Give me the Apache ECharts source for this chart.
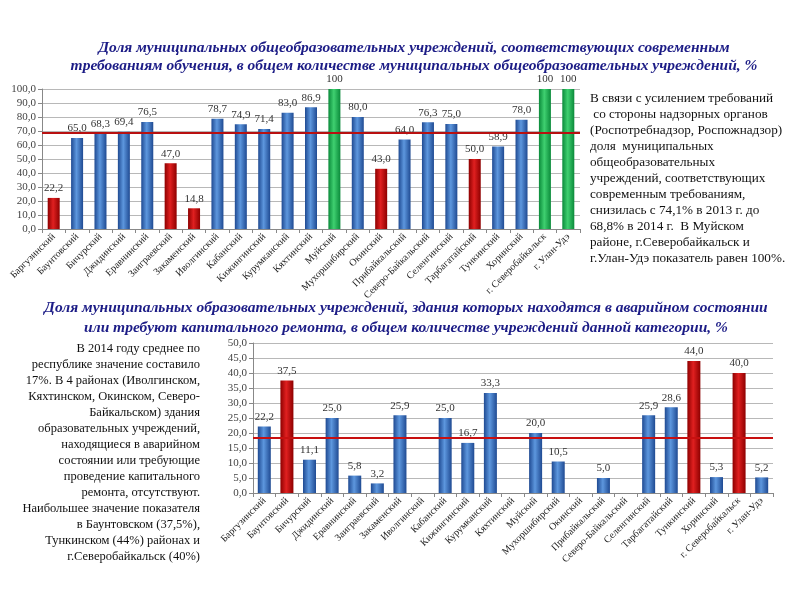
<!DOCTYPE html>
<html>
<head>
<meta charset="utf-8">
<script src="https://cdn.jsdelivr.net/npm/echarts@6/dist/echarts.min.js"></script>
<style>
html,body{margin:0;padding:0;background:#fff;}
#c{width:800px;height:600px;}
</style>
</head>
<body>
<div id="c"></div>
<script>
const categories = ['Баргузинский','Баунтовский','Бичурский','Джидинский','Еравнинский','Заиграевский','Закаменский','Иволгинский','Кабанский','Кижингинский','Курумканский','Кяхтинский','Муйский','Мухоршибирский','Окинский','Прибайкальский','Северо-Байкальский','Селенгинский','Тарбагатайский','Тункинский','Хоринский','г. Северобайкальск','г. Улан-Удэ'];
const topValues = [22.2,65.0,68.3,69.4,76.5,47.0,14.8,78.7,74.9,71.4,83.0,86.9,100,80.0,43.0,64.0,76.3,75.0,50.0,58.9,78.0,100,100];
const bottomValues = [22.2,37.5,11.1,25.0,5.8,3.2,25.9,0,25.0,16.7,33.3,0,20.0,10.5,0,5.0,0,25.9,28.6,44.0,5.3,40.0,5.2];
const topRef = 68.8;
const bottomRef = 18.3;
const topYTicks = [0,10,20,30,40,50,60,70,80,90,100];
const bottomYTicks = [0,5,10,15,20,25,30,35,40,45,50];
const title1 = ['Доля муниципальных общеобразовательных учреждений, соответствующих современным','требованиям обучения, в общем количестве муниципальных общеобразовательных учреждений, %'];
const title2 = ['Доля муниципальных образовательных учреждений, здания которых находятся в аварийном состоянии','или требуют капитального ремонта, в общем количестве учреждений данной категории, %'];
const rightText = ['В связи с усилением требований',' со стороны надзорных органов','(Роспотребнадзор, Роспожнадзор)','доля  муниципальных','общеобразовательных','учреждений, соответствующих','современным требованиям,','снизилась с 74,1% в 2013 г. до','68,8% в 2014 г.  В Муйском','районе, г.Северобайкальск и','г.Улан-Удэ показатель равен 100%.'];
const leftText = ['В 2014 году среднее по','республике значение составило','17%. В 4 районах (Иволгинском,','Кяхтинском, Окинском, Северо-','Байкальском) здания','образовательных учреждений,','находящиеся в аварийном','состоянии или требующие','проведение капитального','ремонта, отсутствуют.','Наибольшее значение показателя','в Баунтовском (37,5%),','Тункинском (44%) районах и','г.Северобайкальск (40%)'];

function grad(edge, mid){
  return new echarts.graphic.LinearGradient(0,0,1,0,[
    {offset:0,color:edge},{offset:0.45,color:mid},{offset:1,color:edge}]);
}
const BLUE = grad('#1f4a92','#5d97de');
const RED = grad('#8e0000','#e02020');
const GREEN = grad('#0a8a3a','#3fd070');
const fmt = v => v === 0 ? '' : (v === 100 ? '100' : v.toFixed(1).replace('.', ','));
const axisFmt = v => v.toFixed(1).replace('.', ',');
const serif = 'Liberation Serif';

const chart = echarts.init(document.getElementById('c'));
const xAxisCommon = {
  type:'category', data:categories,
  axisLine:{lineStyle:{color:'#888'}},
  axisTick:{show:true,length:4,lineStyle:{color:'#888'}},
  axisLabel:{rotate:45,fontFamily:serif,fontSize:10,color:'#222',margin:6,interval:0}
};
const yAxisCommon = {
  type:'value',
  axisLine:{show:true,lineStyle:{color:'#888'}},
  axisTick:{show:true,length:4,lineStyle:{color:'#888'}},
  splitLine:{lineStyle:{color:'#b8b8b8'}},
  axisLabel:{fontFamily:serif,fontSize:11,color:'#444',formatter:axisFmt,margin:6}
};
chart.setOption({
  animation:false,
  grid:[
    {left:42,right:220,top:89,bottom:371},
    {left:253,right:27,top:343,bottom:107}
  ],
  xAxis:[
    Object.assign({gridIndex:0},xAxisCommon),
    Object.assign({gridIndex:1},xAxisCommon)
  ],
  yAxis:[
    Object.assign({gridIndex:0,min:topYTicks[0],max:topYTicks[topYTicks.length-1],interval:topYTicks[1]-topYTicks[0]},yAxisCommon),
    Object.assign({gridIndex:1,min:bottomYTicks[0],max:bottomYTicks[bottomYTicks.length-1],interval:bottomYTicks[1]-bottomYTicks[0]},yAxisCommon)
  ],
  series:[
    {type:'bar',xAxisIndex:0,yAxisIndex:0,barWidth:12,
     data:topValues.map(v=>({value:v,itemStyle:{color:v>=100?GREEN:(v<55?RED:BLUE)}})),
     label:{show:true,position:'top',distance:4,fontFamily:serif,fontSize:11,color:'#333',formatter:p=>fmt(p.value)},
     markLine:{silent:true,symbol:'none',label:{show:false},lineStyle:{color:'#b81010',width:2,type:'solid'},data:[{yAxis:topRef}]}
    },
    {type:'bar',xAxisIndex:1,yAxisIndex:1,barWidth:13,
     data:bottomValues.map(v=>({value:v,itemStyle:{color:v>=35?RED:BLUE}})),
     label:{show:true,position:'top',distance:4,fontFamily:serif,fontSize:11,color:'#333',formatter:p=>fmt(p.value)},
     markLine:{silent:true,symbol:'none',label:{show:false},lineStyle:{color:'#c81010',width:2,type:'solid'},data:[{yAxis:bottomRef}]}
    }
  ],
  graphic:[
    {type:'text',style:{x:414,y:39,text:title1.join('\n'),textAlign:'center',font:'italic bold 15.5px "Liberation Serif"',fill:'#1c1c86',lineHeight:18}},
    {type:'text',style:{x:406,y:298,text:title2.join('\n'),textAlign:'center',font:'italic bold 15.5px "Liberation Serif"',fill:'#1c1c86',lineHeight:20}},
    {type:'text',style:{x:590,y:91,text:rightText.join('\n'),textAlign:'left',font:'13.2px "Liberation Serif"',fill:'#111',lineHeight:16}},
    {type:'text',style:{x:200,y:341,text:leftText.join('\n'),textAlign:'right',font:'12.5px "Liberation Serif"',fill:'#111',lineHeight:16}}
  ]
});
</script>
</body>
</html>
